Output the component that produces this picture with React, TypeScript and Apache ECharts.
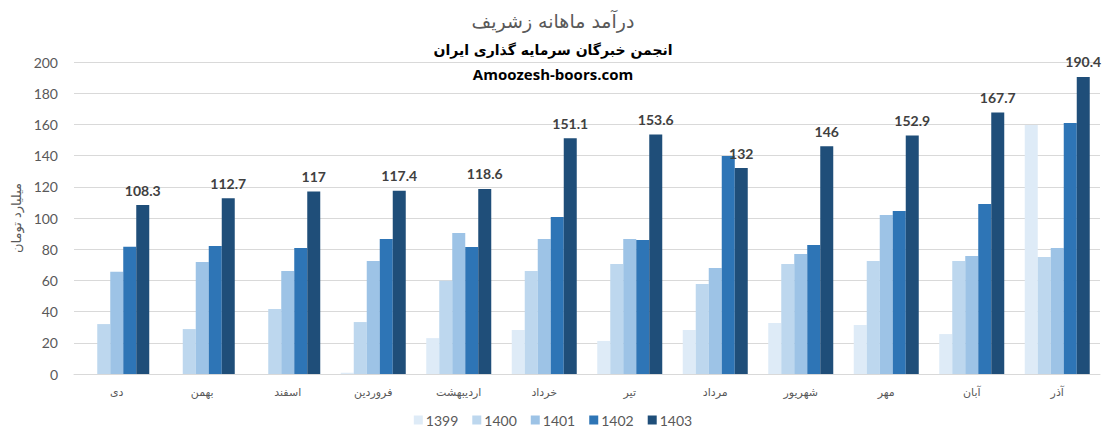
import React, { useEffect, useRef } from "react";
import * as echarts from "echarts";

const months = ["دی", "بهمن", "اسفند", "فروردین", "اردیبهشت", "خرداد", "تیر", "مرداد", "شهریور", "مهر", "آبان", "آذر"];
const years = ["1399", "1400", "1401", "1402", "1403"];
const s1399 = [null, null, null, 0.8, 23, 28.2, 21.2, 28.2, 32.7, 31.4, 25.6, 159.6];
const s1400 = [32, 28.8, 41.7, 33.3, 59.8, 66, 70.5, 57.7, 70.5, 72.4, 72.4, 75];
const s1401 = [65.5, 71.8, 66, 72.4, 90.4, 86.5, 86.5, 68, 76.9, 101.9, 75.6, 80.8];
const s1402 = [81.5, 82, 80.8, 86.5, 81.4, 100.6, 85.9, 139.7, 82.7, 104.5, 109, 160.9];
const s1403 = [108.3, 112.7, 117, 117.4, 118.6, 151.1, 153.6, 132, 146, 152.9, 167.7, 190.4];
const yTicks = { min: 0, max: 200, interval: 20 };
const colors = ["#DEEBF7", "#BDD7EE", "#9DC3E6", "#2E75B6", "#1F4E79"];

export default function App() {
  const ref = useRef<HTMLDivElement>(null);
  useEffect(() => {
    const chart = echarts.init(ref.current!, null, { renderer: "svg" });
    const data = [s1399, s1400, s1401, s1402, s1403];
    chart.setOption({
      animation: false,
      color: colors,
      title: {
        text: "درآمد ماهانه زشریف",
        left: "center",
        top: 6,
        textStyle: { fontFamily: "DejaVu Sans", fontSize: 19, fontWeight: "normal", color: "#595959" },
      },
      graphic: [
        {
          type: "text",
          left: "center",
          top: 43,
          style: { text: "انجمن خبرگان سرمایه گذاری ایران", fontFamily: "DejaVu Sans", fontSize: 14, fontWeight: "bold", fill: "#000" },
        },
        {
          type: "text",
          left: "center",
          top: 66,
          style: { text: "Amoozesh-boors.com", fontFamily: "Open Sans", fontSize: 15, fontWeight: "bold", fill: "#000" },
        },
      ],
      legend: {
        bottom: 11,
        left: "center",
        itemWidth: 9,
        itemHeight: 9,
        itemGap: 14,
        icon: "rect",
        textStyle: { fontFamily: "Lato", fontSize: 14, color: "#595959", padding: [0, 0, 0, -2] },
        data: years,
      },
      grid: { left: 74, right: 6, top: 62, bottom: 69 },
      xAxis: {
        type: "category",
        data: months,
        axisLine: { lineStyle: { color: "#D9D9D9" } },
        axisTick: { show: false },
        axisLabel: { fontFamily: "DejaVu Sans", fontSize: 11, color: "#595959", margin: 13 },
      },
      yAxis: {
        type: "value",
        min: yTicks.min,
        max: yTicks.max,
        interval: yTicks.interval,
        name: "میلیارد تومان",
        nameLocation: "middle",
        nameGap: 48,
        nameRotate: 90,
        nameTextStyle: { fontFamily: "DejaVu Sans", fontSize: 13, color: "#595959" },
        axisLine: { show: false },
        axisTick: { show: false },
        splitLine: { lineStyle: { color: "#D9D9D9" } },
        axisLabel: { fontFamily: "Lato", fontSize: 14, color: "#595959", margin: 16 },
      },
      series: years.map((y, i) => ({
        name: y,
        type: "bar",
        data: data[i],
        barWidth: 13,
        barGap: "0%",
        itemStyle: { color: colors[i] },
        label:
          i === 4
            ? {
                show: true,
                position: "top",
                distance: 8,
                fontFamily: "Lato",
                fontSize: 14,
                fontWeight: "bold",
                color: "#404040",
              }
            : { show: false },
      })),
    });
    return () => chart.dispose();
  }, []);
  return <div ref={ref} style={{ position: "absolute", left: 0, top: 0, width: 1106, height: 443 }} />;
}
